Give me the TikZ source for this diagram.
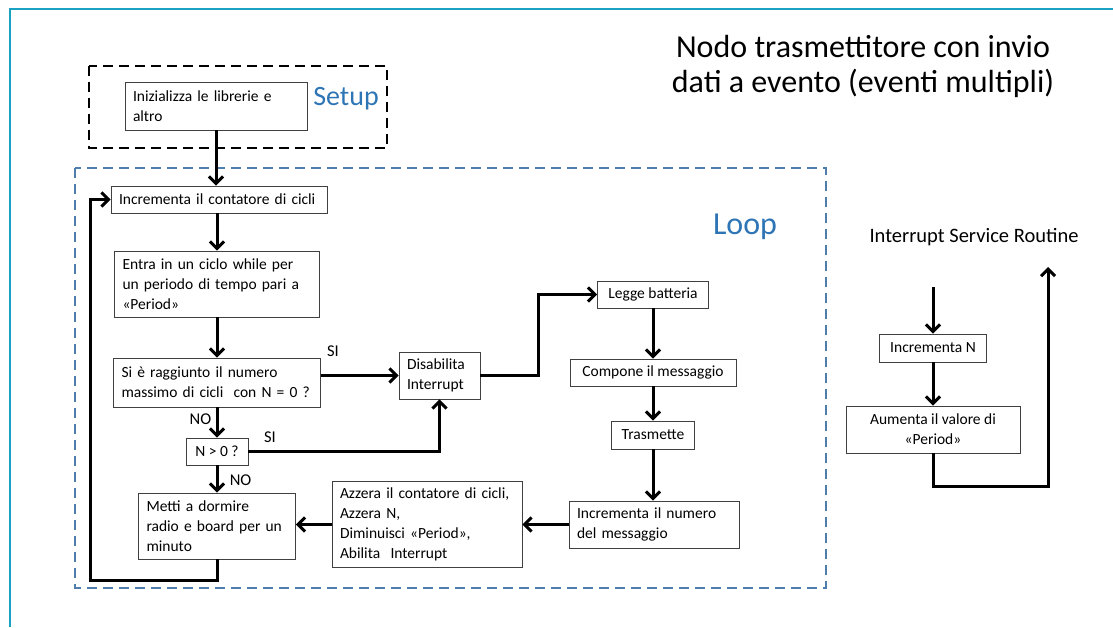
\documentclass[tikz,border=0pt]{standalone}
\usepackage{fontspec}
\setmainfont{Carlito}
\usetikzlibrary{arrows.meta, positioning, calc}
\definecolor{frameTeal}{RGB}{27, 161, 193}
\definecolor{loopBlue}{RGB}{79, 126, 174}
\definecolor{titleBlue}{RGB}{46, 117, 182}
\definecolor{boxGray}{RGB}{64, 64, 64}

\begin{document}
\begin{tikzpicture}[
    x=1pt, y=-1pt,
    every node/.style={font=\fontsize{15.5}{20}\selectfont},
    box/.style={rectangle, draw=boxGray, line width=0.9pt, fill=white, align=left, inner xsep=8pt, inner ysep=0pt},
    cbox/.style={box, align=center},
    flow/.style={-{Straight Barb[length=7pt, width=14pt]}, line width=3pt, line join=miter},
    tag/.style={font=\fontsize{16.5}{18}\selectfont},
    group/.style={dashed, dash pattern=on 10pt off 6pt, line width=1.4pt},
]
\useasboundingbox (0,0) rectangle (1113,627);
% cornice
\draw[frameTeal, line width=2pt] (10,627) -- (10,9) -- (1113,9);
% titolo
\node[align=center, font=\fontsize{32}{35}\selectfont] (titolo) at (863,66) {Nodo trasmettitore con invio\\dati a evento (eventi multipli)};
% gruppi
\draw[group, black] (89,66) rectangle (387,148);
\draw[group, loopBlue] (75,168) rectangle (826,588);
\node[text=titleBlue, font=\fontsize{28}{30}\selectfont] (setup) at (346,99) {Setup};
\node[text=titleBlue, font=\fontsize{32}{34}\selectfont] (loop) at (745,227) {Loop};
% setup e loop
\node[box, text width=166pt, minimum height=48pt] (init) at (216,106) {Inizializza le librerie e\\altro};
\node[box, text width=200pt, minimum height=27pt] (inc) at (219,199.5) {Incrementa il contatore di cicli};
\node[box, text width=189pt, minimum height=66pt] (entra) at (217,284) {Entra in un ciclo while per\\un periodo di tempo pari a\\«Period»};
\node[box, text width=191pt, minimum height=49pt] (ragg) at (217,382.5) {Si è raggiunto il numero\\massimo di cicli\ \ con N = 0 ?};
\node[cbox, minimum width=62pt, minimum height=27pt, inner xsep=0pt] (npos) at (217,451.5) {N > 0 ?};
\node[box, text width=141pt, minimum height=66pt] (dormi) at (217,526) {Metti a dormire\\radio e board per un\\minuto};
\node[box, text width=174pt, minimum height=86pt] (azzera) at (427,524.5) {Azzera il contatore di cicli,\\Azzera N,\\Diminuisci «Period»,\\Abilita\ \ Interrupt};
\node[box, text width=65pt, minimum height=47pt] (disab) at (439.5,375.5) {Disabilita\\Interrupt};
\node[cbox, minimum width=111pt, minimum height=27pt] (legge) at (653,294.5) {Legge batteria};
\node[cbox, minimum width=166pt, minimum height=27pt] (compone) at (653,372.5) {Compone il messaggio};
\node[cbox, minimum width=83pt, minimum height=28pt] (trasm) at (653,435) {Trasmette};
\node[box, text width=154pt, minimum height=47pt] (incnum) at (654,524.5) {Incrementa il numero\\del messaggio};
% interrupt service routine
\node[font=\fontsize{20.5}{24}\selectfont] (isr) at (974,237) {Interrupt Service Routine};
\coordinate (isrin) at (933,287);
\coordinate (isrout) at (1048,267);
\node[cbox, minimum width=107pt, minimum height=28pt] (incN) at (933,348) {Incrementa N};
\node[cbox, minimum width=174pt, minimum height=47pt] (aumenta) at (933,429.5) {Aumenta il valore di\\«Period»};
% frecce
\draw[flow] (init) -- (init |- inc.north);
\draw[flow] (inc.south -| entra) -- (entra);
\draw[flow] (entra) -- (ragg);
\draw[flow] (ragg) -- (npos) node[tag, pos=0.4, left, xshift=-1pt] {NO};
\draw[flow] (npos) -- (dormi) node[tag, pos=0.55, right, xshift=8pt] {NO};
\draw[flow] (ragg.east |- disab.west) -- (disab.west);
\node[tag] (si1) at (333,351) {SI};
\draw[flow] (npos) -| (disab);
\node[tag] (si2) at (270,437) {SI};
\draw[flow] (disab.east) -- ++(58,0) |- (legge);
\draw[flow] (legge) -- (compone);
\draw[flow] (compone) -- (trasm);
\draw[flow] (trasm.south) -- (trasm.south |- incnum.north);
\draw[flow] (incnum) -- (azzera);
\draw[flow] (azzera.west) -- (azzera.west -| dormi.east);
\draw[flow] (dormi.south) -- ++(0,21) -- ++(-127,0) |- (inc.west);
\draw[flow] (isrin) -- (incN);
\draw[flow] (incN) -- (aumenta);
\draw[flow] (aumenta.south) -- ++(0,33) -| (isrout);
\end{tikzpicture}
\end{document}
